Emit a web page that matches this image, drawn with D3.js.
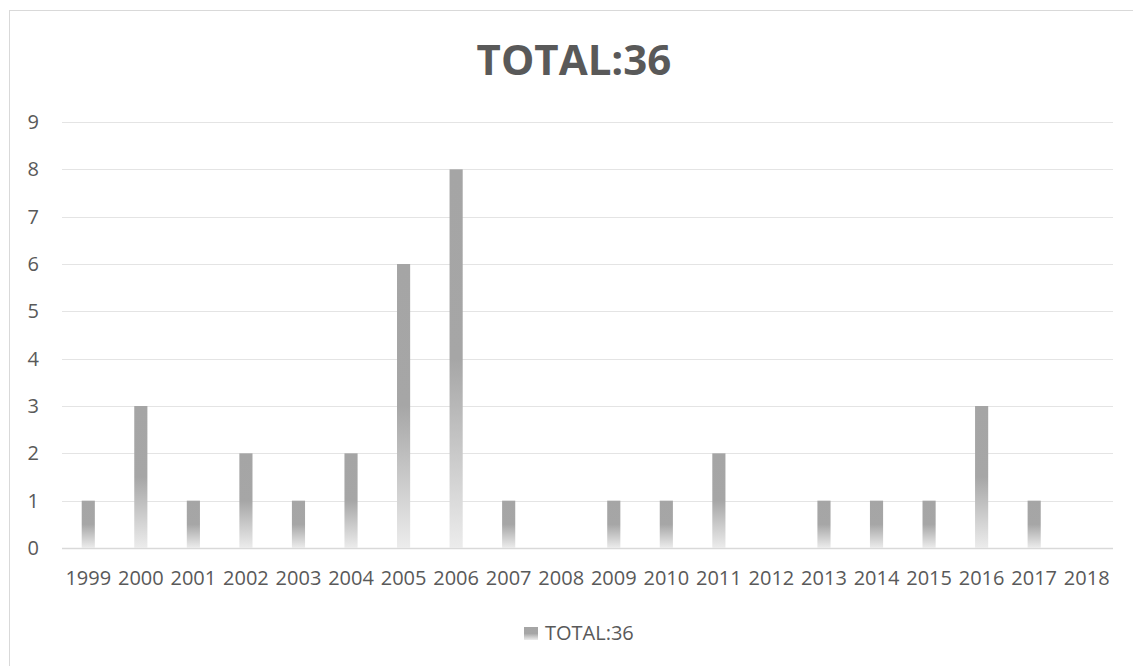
<!DOCTYPE html>
<html>
<head>
<meta charset="utf-8">
<script src="https://cdn.jsdelivr.net/npm/d3@7"></script>
<style>
  body { margin: 0; background: #fff; }
  svg { display: block; font-family: "Open Sans", sans-serif; }
</style>
</head>
<body>
<svg id="chart" width="1133" height="666"></svg>
<script>
// chart values
var years = ["1999","2000","2001","2002","2003","2004","2005","2006","2007","2008",
             "2009","2010","2011","2012","2013","2014","2015","2016","2017","2018"];
var counts = [1, 3, 1, 2, 1, 2, 6, 8, 1, 0, 1, 1, 2, 0, 1, 1, 1, 3, 1, 0];
var yTicks = [0, 1, 2, 3, 4, 5, 6, 7, 8, 9];
var seriesName = "TOTAL:36";

var svg = d3.select("#chart");
var plot = {left: 62, right: 1113, top: 122, bottom: 548};
var fontFam = "'Open Sans', sans-serif";

// gradient used by the bars (top solid, fading out toward the bottom)
var defs = svg.append("defs");
var grad = defs.append("linearGradient")
    .attr("id", "barGrad")
    .attr("x1", 0).attr("y1", 0).attr("x2", 0).attr("y2", 1);
grad.append("stop").attr("offset", "0").attr("stop-color", "#a5a5a5");
grad.append("stop").attr("offset", "0.5").attr("stop-color", "#a6a6a6");
grad.append("stop").attr("offset", "1").attr("stop-color", "#ececec");

// outer chart border
svg.append("rect")
    .attr("x", 9.5).attr("y", 10.5)
    .attr("width", 1140).attr("height", 670)
    .attr("fill", "none")
    .attr("stroke", "#d9d9d9");

var x = d3.scaleBand().domain(years).range([plot.left, plot.right]).padding(0);
var y = d3.scaleLinear().domain([0, 9]).range([plot.bottom, plot.top]);

// gridlines
svg.append("g").selectAll("line")
    .data(yTicks)
    .enter().append("line")
    .attr("x1", plot.left).attr("x2", plot.right)
    .attr("y1", function(d) { return Math.round(y(d)) + 0.5; })
    .attr("y2", function(d) { return Math.round(y(d)) + 0.5; })
    .attr("stroke", function(d) { return d == 0 ? "#d9d9d9" : "#e4e4e4"; })
    .attr("stroke-width", function(d) { return d == 0 ? 1.5 : 1; });

// y axis labels
var yAxis = d3.axisLeft(y).tickValues(yTicks).tickSize(0).tickPadding(0);
var gy = svg.append("g").attr("transform", "translate(39,0)").call(yAxis);
gy.select(".domain").remove();
gy.selectAll("text")
    .attr("fill", "#595959")
    .style("font-size", "20px")
    .style("font-family", fontFam);

// x axis labels
var xAxis = d3.axisBottom(x).tickSize(0).tickPadding(0);
var gx = svg.append("g").attr("transform", "translate(0,571)").call(xAxis);
gx.select(".domain").remove();
gx.selectAll("text")
    .attr("fill", "#595959")
    .attr("dy", "0.71em")
    .style("font-size", "20px")
    .style("font-family", fontFam);

// bars
var barData = years.map(function(yr, i) { return {year: yr, value: counts[i]}; })
    .filter(function(d) { return d.value > 0; });
var barW = x.bandwidth() * 0.25;
svg.append("g").selectAll("rect")
    .data(barData)
    .enter().append("rect")
    .attr("x", function(d) { return x(d.year) + (x.bandwidth() - barW) / 2; })
    .attr("y", function(d) { return y(d.value); })
    .attr("width", barW)
    .attr("height", function(d) { return y(0) - y(d.value); })
    .attr("fill", "url(#barGrad)");

// title
svg.append("text")
    .attr("x", 574).attr("y", 75)
    .attr("text-anchor", "middle")
    .attr("fill", "#595959")
    .style("font-size", "42px")
    .style("font-weight", "bold")
    .style("font-family", fontFam)
    .text(seriesName);

// legend
var leg = svg.append("g").attr("transform", "translate(524,627)");
leg.append("rect").attr("width", 14).attr("height", 13).attr("fill", "url(#barGrad)");
leg.append("text")
    .attr("x", 21).attr("y", 13)
    .attr("fill", "#595959")
    .style("font-size", "20px")
    .style("font-family", fontFam)
    .text(seriesName);
</script>
</body>
</html>
